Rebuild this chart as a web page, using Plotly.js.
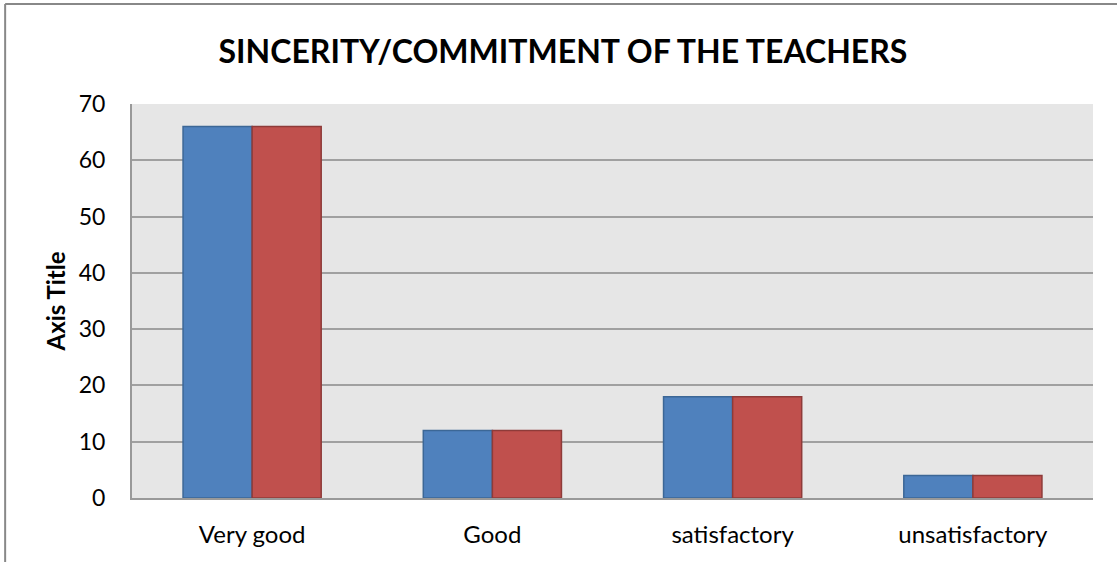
<!DOCTYPE html>
<html>
<head>
<meta charset="utf-8">
<script src="https://cdn.plot.ly/plotly-3.0.1.min.js"></script>
<style>
html,body{margin:0;padding:0;background:#fff;}
#chart{width:1117px;height:562px;}
</style>
</head>
<body>
<div id="chart"></div>
<script>
const categories = ["Very good", "Good", "satisfactory", "unsatisfactory"];
const series1 = [66, 12, 18, 4];
const series2 = [66, 12, 18, 4];
const yTicks = [0, 10, 20, 30, 40, 50, 60, 70];

const font = "Lato, 'Open Sans', sans-serif";

const data = [
  {type: "bar", name: "Series1", x: categories, y: series1,
   marker: {color: "#4f81bd", line: {color: "#3c6796", width: 1.5}}},
  {type: "bar", name: "Series2", x: categories, y: series2,
   marker: {color: "#c0504d", line: {color: "#8e3b39", width: 1.5}}}
];

const layout = {
  width: 1117, height: 562,
  margin: {l: 132, r: 24, t: 104, b: 64},
  paper_bgcolor: "#ffffff",
  plot_bgcolor: "#e6e6e6",
  showlegend: false,
  barmode: "group",
  bargap: 0.425,
  bargroupgap: 0,
  title: {text: "<b>SINCERITY/COMMITMENT OF THE TEACHERS</b>",
          font: {family: font, size: 32, color: "#000"},
          x: 0.504, xanchor: "center", y: 0.907, yanchor: "middle"},
  font: {family: font, color: "#000"},
  xaxis: {
    tickfont: {size: 24, family: font, color: "#000"},
    showline: true, linecolor: "#999999", linewidth: 2,
    ticks: "outside", ticklen: 14, tickcolor: "rgba(0,0,0,0)", showgrid: false
  },
  yaxis: {
    range: [0, 70],
    tickvals: yTicks,
    tickfont: {size: 23, family: font, color: "#000"},
    showline: true, linecolor: "#999999", linewidth: 2,
    showgrid: true, gridcolor: "#a0a0a0", gridwidth: 2,
    zeroline: false, ticks: "outside", ticklen: 20, tickcolor: "rgba(0,0,0,0)",
    title: {text: "<b>Axis Title</b>", font: {size: 24, family: font, color: "#000"}, standoff: 6}
  },
  shapes: [
    {type: "line", xref: "paper", yref: "paper", x0: -0.132, x1: 1.05, y0: 1.254, y1: 1.254,
     line: {color: "#888888", width: 2}},
    {type: "line", xref: "paper", yref: "paper", x0: -0.132, x1: -0.132, y0: 1.254, y1: -0.3,
     line: {color: "#888888", width: 2}}
  ]
};

Plotly.newPlot("chart", data, layout, {displayModeBar: false, staticPlot: true});
</script>
</body>
</html>
